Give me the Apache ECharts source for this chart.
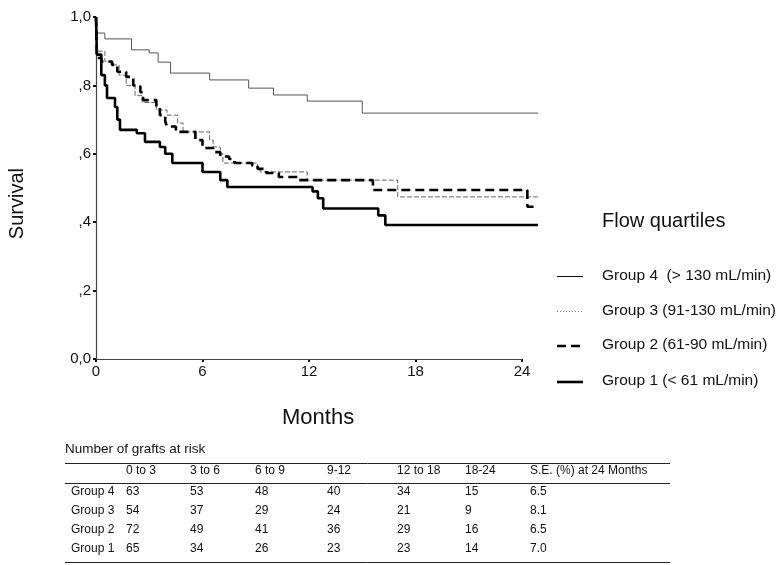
<!DOCTYPE html>
<html>
<head>
<meta charset="utf-8">
<script src="https://cdn.jsdelivr.net/npm/echarts@6/dist/echarts.min.js"></script>
<style>
html,body{margin:0;padding:0;background:#fff;}
#chart{width:778px;height:565px;}
</style>
</head>
<body>
<div id="chart"></div>
<script>
// ---- data ----
const xTicks = [0, 6, 12, 18, 24];
const xMaxFollowUp = 24.9;
const yTickLabels = ['0,0', ',2', ',4', ',6', ',8', '1,0'];

const legendTitle = 'Flow quartiles';
const seriesNames = ['Group 4  (> 130 mL/min)', 'Group 3 (91-130 mL/min)', 'Group 2 (61-90 mL/min)', 'Group 1 (< 61 mL/min)'];

const g4Time = [0, 0.06, 0.5, 2.0, 3.0, 3.5, 4.2, 6.4, 8.6, 10.0, 11.9, 15.0, 24.9];
const g4Surv = [1.0, 0.953, 0.936, 0.904, 0.895, 0.868, 0.836, 0.816, 0.792, 0.772, 0.754, 0.719, 0.719];

const g3Time = [0, 0.05, 0.5, 1.0, 1.3, 1.7, 2.2, 2.6, 3.4, 4.0, 4.6, 4.9, 6.4, 6.6, 7.0, 7.15, 9.1, 9.25, 11.9, 17.0, 24.9];
const g3Surv = [1.0, 0.90, 0.87, 0.86, 0.83, 0.80, 0.77, 0.75, 0.728, 0.713, 0.69, 0.664, 0.64, 0.62, 0.60, 0.573, 0.56, 0.547, 0.523, 0.474, 0.474];

const g2Time = [0, 0.05, 0.3, 0.9, 1.2, 1.7, 2.1, 2.5, 2.65, 3.4, 3.6, 3.9, 4.0, 4.5, 5.6, 6.0, 6.6, 7.0, 7.5, 7.8, 8.8, 9.1, 9.6, 10.3, 11.4, 15.6, 24.3, 24.9];
const g2Surv = [1.0, 0.88, 0.87, 0.86, 0.84, 0.825, 0.80, 0.78, 0.757, 0.735, 0.713, 0.695, 0.68, 0.664, 0.64, 0.617, 0.605, 0.592, 0.585, 0.573, 0.565, 0.556, 0.544, 0.532, 0.523, 0.494, 0.445, 0.445];

const g1Time = [0, 0.05, 0.3, 0.5, 0.62, 1.07, 1.2, 1.35, 2.3, 2.76, 3.6, 3.9, 4.3, 6.0, 7.0, 7.4, 12.2, 12.5, 12.8, 15.9, 16.3, 24.9];
const g1Surv = [1.0, 0.89, 0.83, 0.80, 0.763, 0.737, 0.70, 0.67, 0.66, 0.635, 0.62, 0.60, 0.573, 0.547, 0.523, 0.503, 0.49, 0.47, 0.44, 0.42, 0.392, 0.392];

const tableTitle = 'Number of grafts at risk';
const tableCols = ['0 to 3', '3 to 6', '6 to 9', '9-12', '12 to 18', '18-24', 'S.E. (%) at 24 Months'];
const tableRows = ['Group 4', 'Group 3', 'Group 2', 'Group 1'];
const atRiskG4 = [63, 53, 48, 40, 34, 15];
const atRiskG3 = [54, 37, 29, 24, 21, 9];
const atRiskG2 = [72, 49, 41, 36, 29, 16];
const atRiskG1 = [65, 34, 26, 23, 23, 14];
const seAt24 = ['6.5', '8.1', '6.5', '7.0'];

// ---- build ----
const FONT = '"Liberation Sans", Arial, Helvetica, sans-serif';
const zip = (t, s) => t.map((v, i) => [v, s[i]]);

const styles = [
  {color: '#555', width: 1, type: 'solid'},
  {color: '#666', width: 1, type: [5, 2]},
  {color: '#000', width: 2.6, type: [9, 5]},
  {color: '#000', width: 2.6, type: 'solid'}
];
const legendStyles = [
  {stroke: '#111', lineWidth: 1, lineDash: null},
  {stroke: '#777', lineWidth: 1, lineDash: [1, 2]},
  {stroke: '#000', lineWidth: 2.6, lineDash: [9, 5]},
  {stroke: '#000', lineWidth: 2.6, lineDash: null}
];
const datasets = [zip(g4Time, g4Surv), zip(g3Time, g3Surv), zip(g2Time, g2Surv), zip(g1Time, g1Surv)];

const series = datasets.map((d, i) => ({
  name: seriesNames[i],
  type: 'line',
  step: 'end',
  data: d,
  showSymbol: false,
  symbol: 'none',
  animation: false,
  lineStyle: styles[i],
  itemStyle: {color: styles[i].color}
}));
// x axis baseline (0 .. 24 months) through the library's scales
series.push({
  type: 'line', data: [], silent: true, animation: false,
  markLine: {
    silent: true, symbol: 'none', animation: false, label: {show: false},
    lineStyle: {color: '#444', width: 1.2, type: 'solid'},
    data: [[{coord: [xTicks[0], 0]}, {coord: [xTicks[xTicks.length - 1], 0]}]]
  }
});

const g = [];
const txt = (x, y, s, size, extra) => g.push({type: 'text', left: x, top: y, style: Object.assign({text: s, font: size + 'px ' + FONT, fill: '#111'}, extra || {})});
const rule = (y, x1, x2) => g.push({type: 'line', shape: {x1: x1, y1: y, x2: x2, y2: y}, style: {stroke: '#222', lineWidth: 1}});

// legend (custom, matching the original layout)
txt(602, 211, legendTitle, 20);
const legY = [276.5, 311.5, 346, 382];
seriesNames.forEach((n, i) => {
  g.push({type: 'line', shape: {x1: 557, y1: legY[i], x2: 583, y2: legY[i]}, style: legendStyles[i]});
  txt(602, legY[i] - 9, n, 15.5);
});

// table
const colX = [126, 190, 255, 327, 397, 465, 530];
const rowY = [493, 512, 531, 550];
const headerY = 472;
const tableData = [atRiskG4, atRiskG3, atRiskG2, atRiskG1];
txt(65, 442, tableTitle, 13.5);
rule(463.5, 65, 670);
tableCols.forEach((c, i) => txt(colX[i], headerY - 7, c, 12));
rule(483.5, 65, 670);
tableRows.forEach((r, ri) => {
  txt(71, rowY[ri] - 7, r, 12);
  tableData[ri].forEach((v, ci) => txt(colX[ci], rowY[ri] - 7, String(v), 12));
  txt(colX[6], rowY[ri] - 7, seAt24[ri], 12);
});
rule(562.5, 65, 670);

// axis titles
g.push({type: 'text', left: 282, top: 407, style: {text: 'Months', font: '22px ' + FONT, fill: '#111'}});
g.push({type: 'text', left: 7, top: 168, rotation: Math.PI / 2, style: {text: 'Survival', font: '20px ' + FONT, fill: '#111'}});

const chart = echarts.init(document.getElementById('chart'), null, {renderer: 'canvas'});
chart.setOption({
  animation: false,
  backgroundColor: '#fff',
  grid: {left: 96, right: 778 - 96 - Math.round(17.75 * xMaxFollowUp), top: 17, bottom: 206, containLabel: false},
  xAxis: {
    type: 'value', min: 0, max: xMaxFollowUp,
    axisLine: {show: false},
    axisTick: {show: true, length: 3, lineStyle: {color: '#111', width: 2}, customValues: xTicks},
    axisLabel: {color: '#111', fontSize: 15, fontFamily: FONT, margin: 5, customValues: xTicks},
    splitLine: {show: false}
  },
  yAxis: {
    type: 'value', min: 0, max: 1, interval: 0.2,
    axisLine: {show: true, lineStyle: {color: '#444', width: 1.2}},
    axisTick: {show: true, length: 3, lineStyle: {color: '#111', width: 2}},
    axisLabel: {color: '#111', fontSize: 15, fontFamily: FONT, margin: 5,
      formatter: (v) => yTickLabels[Math.round(v * 5)]},
    splitLine: {show: false}
  },
  series: series,
  graphic: g
});
</script>
</body>
</html>
